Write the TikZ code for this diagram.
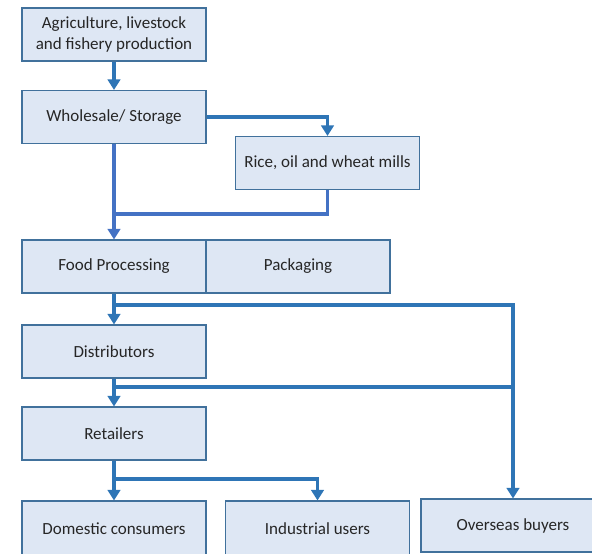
\documentclass[tikz,border=0pt]{standalone}
\usepackage{fontspec}
\setmainfont{Carlito}
\usepackage{xcolor}
\usepackage{tikz}
\usetikzlibrary{arrows.meta,calc}
\definecolor{ink}      {HTML}{262626}
\definecolor{boxfill}  {HTML}{DEE7F4}
\definecolor{boxline}  {HTML}{41719C}
\definecolor{flowblue} {HTML}{2E75B6}
\definecolor{linkblue} {HTML}{4472C4}
\tikzset{
  stage/.style = {rectangle, fill=boxfill, draw=boxline, line width=0.8pt,
                  minimum width=184*0.75pt, minimum height=53*0.75pt,
                  align=center, text=ink, inner sep=2pt,
                  font=\fontsize{12.75}{15.75}\selectfont},
  flow/.style  = {-{Triangle[width=9.5pt,length=8pt]}, draw=flowblue,
                  line width=2.6pt},
  link/.style  = {draw=flowblue, line width=2.6pt},
}

\begin{document}
\begin{tikzpicture}[x=0.75pt,y=-0.75pt]
  \useasboundingbox (0,0) rectangle (592,553);

  % main column
  \node[stage] (agri)   at (114,34.5)  {Agriculture, livestock\\and fishery production};
  \node[stage] (whole)  at (114,117)   {Wholesale/ Storage};
  \node[stage] (mills)  at (327.5,163) {Rice, oil and wheat mills};
  \node[stage] (food)   at (114,266.5) {Food Processing};
  \node[stage] (pack)   at (298,266.5) {Packaging};
  \node[stage] (dist)   at (114,351.5) {Distributors};
  \node[stage] (retail) at (114,433.5) {Retailers};

  % end users
  \node[stage, minimum height=56*0.75pt] (dom)  at (114,529)   {Domestic consumers};
  \node[stage, minimum height=56*0.75pt] (ind)  at (317.5,529) {Industrial users};
  \node[stage] (over) at (513,525.5) {Overseas buyers};

  % junctions
  \coordinate (jmill) at (114,214);
  \coordinate (jfood) at (114,305);
  \coordinate (jdist) at (114,387);
  \coordinate (jret)  at (114,479);

  % connectors
  \draw[flow] (agri) -- (whole);
  \draw[flow] (whole.east) -| (mills.north);
  \draw[flow, draw=linkblue] (whole) -- (food);
  \draw[link, draw=linkblue] (mills.south) |- (jmill);
  \draw[flow] (food) -- (dist);
  \draw[flow] (jfood) -| (over.north);
  \draw[flow] (dist) -- (retail);
  \draw[link] (jdist) -- (jdist -| over.north);
  \draw[flow] (retail) -- (dom);
  \draw[flow] (jret) -| (ind.north);
\end{tikzpicture}
\end{document}
